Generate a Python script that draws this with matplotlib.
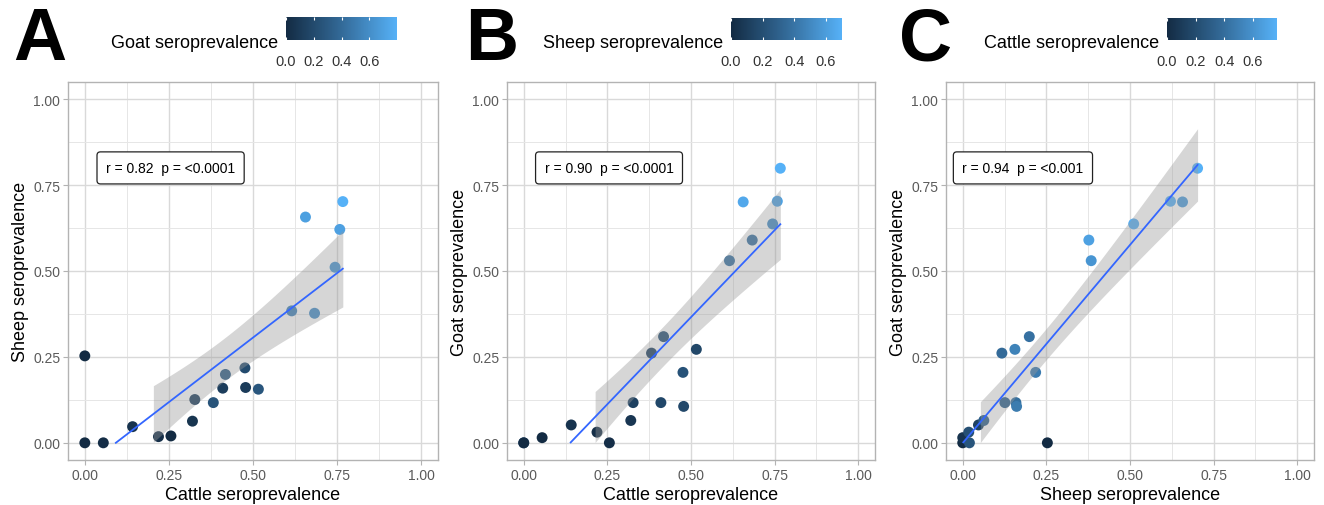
import numpy as np
import matplotlib
matplotlib.use("Agg")
import matplotlib.pyplot as plt
from matplotlib.colors import LinearSegmentedColormap
from matplotlib.cm import ScalarMappable
from matplotlib.colors import Normalize

plt.rcParams['font.family'] = ['Liberation Sans', 'DejaVu Sans']

# seroprevalence per district
cattle = [0.00, 0.00, 0.055, 0.142, 0.219, 0.256, 0.320, 0.327, 0.382, 0.410,
          0.418, 0.476, 0.478, 0.516, 0.615, 0.656, 0.683, 0.744, 0.758, 0.767]
sheep = [0.253, 0.00, 0.00, 0.047, 0.018, 0.020, 0.063, 0.126, 0.117, 0.159,
         0.199, 0.218, 0.161, 0.156, 0.384, 0.657, 0.377, 0.511, 0.621, 0.702]
goat = [0.00, 0.00, 0.015, 0.052, 0.031, 0.00, 0.065, 0.117, 0.261, 0.117,
        0.309, 0.205, 0.106, 0.272, 0.530, 0.701, 0.590, 0.637, 0.703, 0.799]

letters = ['A', 'B', 'C']
stat_labels = ['r = 0.82  p = <0.0001', 'r = 0.90  p = <0.0001', 'r = 0.94  p = <0.001']
ticks = [0, 0.25, 0.5, 0.75, 1.0]
tick_labels = ['0.00', '0.25', '0.50', '0.75', '1.00']
cbar_ticks = [0.0, 0.2, 0.4, 0.6]

panels = [
    (cattle, sheep, goat, 'Cattle seroprevalence', 'Sheep seroprevalence', 'Goat seroprevalence'),
    (cattle, goat, sheep, 'Cattle seroprevalence', 'Goat seroprevalence', 'Sheep seroprevalence'),
    (sheep, goat, cattle, 'Sheep seroprevalence', 'Goat seroprevalence', 'Cattle seroprevalence'),
]

W, H = 1324, 506
fig = plt.figure(figsize=(W / 100, H / 100), dpi=100)

def px_axes(left, top, right, bottom):
    return fig.add_axes([left / W, 1 - bottom / H, (right - left) / W, (bottom - top) / H])

cmap = LinearSegmentedColormap.from_list('gg', ['#132B43', '#336A98', '#56B1F7'])

axes_px = [(68, 83, 438, 461), (507, 83, 875, 461), (946, 83, 1314, 461)]
cbar_px = [(286, 18, 397, 41), (731, 19, 842, 41), (1167, 19, 1277, 41)]
letter_px = [(40, 41), (492, 41), (926, 41)]
box_x = [0.255, 0.255, 0.18]

for i, (xv, yv, cv, xl, yl, cl) in enumerate(panels):
    x = np.array(xv)
    y = np.array(yv)
    c = np.array(cv)
    ax = px_axes(*axes_px[i])
    ax.set_xlim(-0.05, 1.05)
    ax.set_ylim(-0.05, 1.05)

    ax.scatter(x, y, c=c, cmap=cmap, vmin=c.min(), vmax=c.max(), s=62,
               edgecolors='none', zorder=3)

    # linear fit with 95% CI, clipped to the 0-1 scale like ggplot does
    n = len(x)
    slope, icpt = np.polyfit(x, y, 1)
    resid = y - (slope * x + icpt)
    s = np.sqrt(np.sum(resid ** 2) / (n - 2))
    xs = np.linspace(x.min(), x.max(), 400)
    yh = slope * xs + icpt
    se = s * np.sqrt(1 / n + (xs - x.mean()) ** 2 / np.sum((x - x.mean()) ** 2))
    lo = yh - 2.101 * se
    hi = yh + 2.101 * se
    ok = (lo >= 0) & (hi <= 1)
    ax.fill_between(xs, lo, hi, where=ok, color='#999999', alpha=0.4,
                    linewidth=0, zorder=4)
    yline = np.where((yh >= 0) & (yh <= 1), yh, np.nan)
    ax.plot(xs, yline, color='#3366FF', lw=1.3, zorder=5)

    ax.text(box_x[i], 0.80, stat_labels[i], fontsize=10, ha='center', va='center',
            zorder=6, bbox=dict(boxstyle='round,pad=0.65,rounding_size=0.25',
                                fc='white', ec='#222222', lw=0.9))

    ax.set_xticks(ticks)
    ax.set_xticklabels(tick_labels)
    ax.set_yticks(ticks)
    ax.set_yticklabels(tick_labels)
    ax.set_xticks([0.125, 0.375, 0.625, 0.875], minor=True)
    ax.set_yticks([0.125, 0.375, 0.625, 0.875], minor=True)
    ax.grid(which='major', color='#d9d9d9', lw=1.0)
    ax.grid(which='minor', color='#e6e6e6', lw=0.7)
    ax.set_axisbelow(True)
    ax.tick_params(which='major', length=3.5, width=0.8, color='#b3b3b3',
                   labelcolor='#5a5a5a', labelsize=10, pad=2)
    ax.tick_params(which='minor', length=0)
    for sp in ax.spines.values():
        sp.set_color('#b3b3b3')
        sp.set_linewidth(1.0)
    ax.set_xlabel(xl, fontsize=13, labelpad=3)
    ax.set_ylabel(yl, fontsize=13, labelpad=3)

    # colour bar on top
    cax = px_axes(*cbar_px[i])
    sm = ScalarMappable(norm=Normalize(c.min(), c.max()), cmap=cmap)
    cb = fig.colorbar(sm, cax=cax, orientation='horizontal', ticks=cbar_ticks)
    cb.outline.set_visible(False)
    cax.xaxis.set_ticks_position('both')
    cax.tick_params(direction='in', length=2.5, width=0.8, color='white',
                    labelcolor='#333333', labelsize=10.5, pad=10, labeltop=False)
    cax.set_xticklabels(['0.0', '0.2', '0.4', '0.6'])
    bx = cbar_px[i]
    fig.text((bx[0] - 8) / W, 1 - 43 / H, cl, fontsize=13, ha='right', va='center')

    lx, ly = letter_px[i]
    fig.text(lx / W, 1 - ly / H, letters[i], fontsize=53, fontweight='bold',
             ha='center', va='center')

fig.savefig('out.png', dpi=100)
